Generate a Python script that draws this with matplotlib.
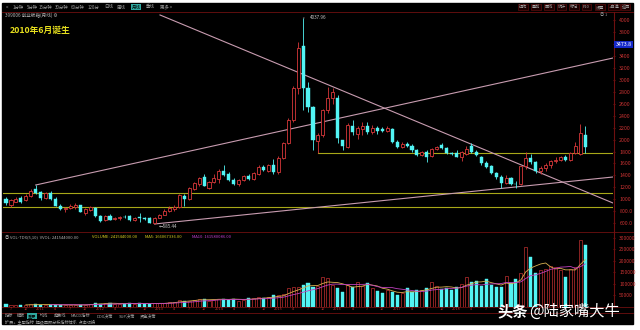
"""ChiNext (399006) monthly candles + volume, TDX-style dark screenshot."""

import numpy as np
import pandas as pd
import matplotlib
matplotlib.use('Agg')
import matplotlib.pyplot as plt
from matplotlib.patches import Rectangle
import matplotlib.transforms as mtransforms

plt.rcParams['font.family'] = ['Noto Sans CJK SC', 'DejaVu Sans']

W, H = 640, 330

# monthly bars 2010-06 .. 2020-03 (index 0 = June 2010)
OPEN  = [1000, 910, 960, 1020, 990, 1050, 1170, 1115, 1020, 1100, 1005, 895,
         840, 860, 870, 900, 775, 820, 860, 720, 650, 720, 670, 685,
         705, 720, 660, 700, 680, 680, 605, 690, 740, 810, 830, 870,
         1060, 1000, 1180, 1250, 1380, 1190, 1290, 1340, 1480, 1420, 1320, 1250,
         1320, 1390, 1340, 1430, 1545, 1480, 1570, 1460, 1690, 1950, 2330, 2860,
         3560, 2860, 2540, 1980, 2080, 2500, 2690, 2700, 1990, 1880, 2230, 2100,
         2180, 2230, 2120, 2200, 2170, 2145, 2170, 1960, 1880, 1930, 1900, 1830,
         1740, 1800, 1720, 1845, 1910, 1860, 1775, 1770, 1710, 1760, 1900, 1800,
         1715, 1600, 1550, 1445, 1375, 1280, 1360, 1255, 1250, 1550, 1690, 1620,
         1470, 1530, 1580, 1640, 1660, 1700, 1660, 1780, 1760, 2080]
HIGH  = [1040, 1000, 1040, 1050, 1080, 1180, 1239, 1140, 1120, 1130, 1030, 920,
         875, 920, 940, 910, 850, 890, 870, 740, 740, 760, 700, 720,
         740, 730, 700, 770, 700, 700, 700, 760, 830, 880, 900, 1080,
         1090, 1210, 1290, 1380, 1423, 1310, 1420, 1500, 1570, 1450, 1350, 1340,
         1410, 1420, 1460, 1570, 1580, 1590, 1670, 1720, 1960, 2360, 2900, 3640,
         4037.96, 2960, 2560, 2110, 2520, 2880, 2860, 2750, 2000, 2280, 2330, 2220,
         2300, 2290, 2250, 2230, 2210, 2230, 2190, 1990, 1960, 1960, 1920, 1850,
         1810, 1820, 1860, 1900, 1950, 1880, 1800, 1830, 1810, 1900, 1940, 1830,
         1730, 1640, 1570, 1460, 1400, 1410, 1370, 1300, 1560, 1800, 1760, 1640,
         1560, 1600, 1660, 1700, 1720, 1740, 1800, 1960, 2260, 2230]
LOW   = [900, 870, 950, 930, 970, 1030, 1080, 990, 1000, 980, 880, 820,
         790, 840, 840, 780, 740, 800, 700, 620, 640, 650, 650, 660,
         680, 640, 640, 620, 650, 595, 585.44, 680, 730, 790, 800, 860,
         890, 990, 1150, 1230, 1220, 1180, 1270, 1270, 1390, 1310, 1240, 1230,
         1300, 1320, 1320, 1410, 1470, 1460, 1430, 1430, 1680, 1930, 2300, 2760,
         2500, 2460, 1830, 1775, 2050, 2450, 2600, 1950, 1820, 1860, 2080, 2010,
         2070, 2100, 2090, 2090, 2120, 2120, 1940, 1860, 1860, 1880, 1800, 1720,
         1720, 1625, 1700, 1830, 1850, 1760, 1740, 1700, 1640, 1740, 1770, 1720,
         1580, 1520, 1420, 1340, 1184, 1250, 1240, 1184, 1240, 1500, 1590, 1440,
         1430, 1480, 1520, 1610, 1640, 1640, 1640, 1760, 1740, 1780]
CLOSE = [930, 985, 1010, 950, 1060, 1130, 1110, 1020, 1100, 1010, 890, 840,
         860, 880, 900, 790, 835, 870, 720, 640, 720, 660, 690, 700,
         700, 655, 690, 680, 670, 605, 690, 740, 810, 860, 870, 1070,
         1000, 1190, 1270, 1360, 1230, 1290, 1350, 1480, 1410, 1330, 1260, 1320,
         1390, 1345, 1440, 1540, 1495, 1575, 1460, 1690, 1940, 2330, 2860, 3540,
         2870, 2550, 2000, 2070, 2490, 2700, 2800, 2030, 1890, 2240, 2120, 2190,
         2230, 2130, 2200, 2140, 2145, 2200, 1960, 1880, 1930, 1900, 1830, 1740,
         1790, 1710, 1840, 1880, 1860, 1775, 1760, 1710, 1790, 1840, 1800, 1745,
         1610, 1545, 1445, 1375, 1280, 1360, 1250, 1250, 1550, 1690, 1620, 1470,
         1530, 1580, 1640, 1660, 1700, 1660, 1780, 1900, 2110, 1870]
VOLUME = [9000, 6000, 7000, 6500, 7500, 9000, 10000, 8000, 7000, 8500, 7000, 6500,
          6000, 7000, 8000, 6500, 7000, 12000, 16500, 13000, 14000, 15000, 11000, 12000,
          12000, 15000, 12000, 16000, 11000, 12000, 14000, 15000, 16000, 18000, 20000, 30000,
          25000, 26000, 28000, 34000, 33000, 26000, 30000, 34000, 34000, 30000, 33000, 26000,
          30000, 38000, 35000, 42000, 36000, 40000, 50000, 52000, 55000, 80000, 86000, 86000,
          93000, 103000, 86000, 90000, 130000, 125000, 95000, 79000, 64000, 95000, 86000, 108000,
          90000, 101000, 80000, 67000, 60000, 70000, 64000, 50000, 60000, 79000, 64000, 72000,
          70000, 79000, 108000, 90000, 75000, 79000, 72000, 86000, 100000, 127000, 108000, 111000,
          89000, 118000, 93000, 83000, 83000, 133000, 101000, 118000, 144000, 260000, 214000, 147000,
          160000, 165000, 175000, 170000, 160000, 127000, 165000, 173000, 289000, 267000]

PRICE_TICKS  = list(range(600, 4001, 200))
LAST_LABEL   = (3600, '3473.8')     # blue highlighted axis box
VOL_TICKS    = [50000, 100000, 150000, 200000, 250000, 300000]
SUPPORT      = [1110, 865]          # yellow full-width levels
NECKLINE     = (63, 1775)           # yellow level from Sep 2015
TREND_DOWN   = [(31.1, 4088), (122.6, 937)]
TREND_UP     = [(6, 1239), (122.6, 3367)]
TREND_LOW    = [(30, 585.44), (122.6, 1373)]

TOOLBAR  = ['<', '1分钟', '5分钟', '15分钟', '30分钟', '60分钟', '120分', '日线', '周线', '月线', '季线', '更多 >']
TOOL_X   = [6, 13, 27, 39, 55, 71, 88, 104, 117, 132, 146, 160]
RIGHTBAR = ['操作', '叠加', '画线', '统计', '标记', 'F10', '设置', '+自选', '返回']
TABS     = ['指标', '模板', '重要', '均线', '趋势线', 'MACD指标', 'DDX决策', 'SUP决策', '资金决策']
TAB_X    = [5, 17, 28, 40, 54, 71, 97, 119, 140]

UP, DOWN = '#d8383a', '#52f4f4'
DARK_RED = '#6e1010'

o, h, l, c, v = map(np.array, (OPEN, HIGH, LOW, CLOSE, VOLUME))
n = len(o)
x = np.arange(n)
up = c >= o
XLIM = (-0.61, 122.6)


def rect(x0, y0, x1, y1):
    return [x0 / W, 1 - y1 / H, (x1 - x0) / W, (y1 - y0) / H]


fig = plt.figure(figsize=(W / 100, H / 100), dpi=100, facecolor='white')

# pixel-space background layer: black screen, separators, toolbar texts
bg = fig.add_axes(rect(0, 0, W, H))
bg.set_xlim(0, W)
bg.set_ylim(H, 0)
bg.axis('off')
bg.set_zorder(0)
bg.add_patch(Rectangle((2, 3), 631, 321, color='black'))
for yy in (11.5, 231.5, 306.5, 312.5):
    bg.plot([2, 633], [yy, yy], color=DARK_RED, lw=0.6)
bg.plot([613.5, 613.5], [11.5, 306.5], color=DARK_RED, lw=0.8)

for xt, lab in zip(TOOL_X, TOOLBAR):
    hl = lab == '月线'
    bg.text(xt, 7, lab, fontsize=3.2, color='black' if hl else '#9a9a9a', va='center',
            bbox=dict(boxstyle='square,pad=0.15', fc='#2fa8a0', ec='none') if hl else None)
for k, lab in enumerate(RIGHTBAR):
    bg.text(519 + k * 12.8, 7, lab, fontsize=3.0, color='#a8a8a8', va='center',
            bbox=dict(boxstyle='square,pad=0.2', fc='#1a0000', ec=DARK_RED, lw=0.4))
bg.text(5, 15, '399006 创业板指(月线) ⚙', fontsize=3.3, color='#b8b8b8', va='center')
bg.text(600, 15, '◎ 1', fontsize=3.0, color='#909090', va='center')
bg.text(10, 30, '2010年6月诞生', fontsize=6.3, color='#e6de1e', fontweight='bold', va='center')

# volume header
bg.text(5, 237, '◎ VOL-TDX(5,10)  VVOL: 241544000.00', fontsize=3.0, color='#b0b0b0', va='center')
bg.text(92, 237, 'VOLUME: 241544000.00', fontsize=3.0, color='#d8d020', va='center')
bg.text(145, 237, 'MA5: 166067336.00', fontsize=3.0, color='#d8d020', va='center')
bg.text(192, 237, 'MA10: 161580086.00', fontsize=3.0, color='#c040d0', va='center')

# bottom tabs
for xt, lab in zip(TAB_X, TABS):
    hl = lab == '重要'
    bg.text(xt, 316, lab, fontsize=3.0, color='black' if hl else '#a0a0a0', va='center',
            bbox=dict(boxstyle='square,pad=0.15', fc='#2fa8a0', ec='none') if hl else None)
bg.text(5, 321.5, '扩展+  主题指标  超级回顾分析指标体系  点击切换', fontsize=3.0, color='#a0a0a0', va='center')

# ---- price panel ----
ax = fig.add_axes(rect(3, 12, 613, 231))
ax.set_zorder(1)
ax.set_facecolor('none')
ax.set_xlim(*XLIM)
ax.set_ylim(468, 4138)
for s in ax.spines.values():
    s.set_visible(False)
ax.set_xticks([])
ax.yaxis.tick_right()
ax.set_yticks(PRICE_TICKS)
ax.set_yticklabels(['' if t == LAST_LABEL[0] else (f'{t:.1f}' if t < 1000 else str(t))
                    for t in PRICE_TICKS])
ax.tick_params(axis='y', length=1.5, color=DARK_RED, labelsize=3.8, labelcolor='#c83232', pad=3)

ax.vlines(x, l, h, colors=np.where(up, UP, DOWN), lw=0.6, zorder=2)
body = np.maximum(np.abs(c - o), 10)
ax.bar(x[up], body[up], bottom=o[up], width=0.62, facecolor='black', edgecolor=UP, lw=0.6, zorder=3)
ax.bar(x[~up], body[~up], bottom=c[~up], width=0.62, facecolor=DOWN, edgecolor=DOWN, lw=0.3, zorder=3)

for lvl in SUPPORT:
    ax.plot(XLIM, [lvl, lvl], color='#a8a818', lw=0.8, zorder=1)
ax.plot([NECKLINE[0], XLIM[1]], [NECKLINE[1], NECKLINE[1]], color='#a8a818', lw=0.8, zorder=1)
for tl in (TREND_DOWN, TREND_UP, TREND_LOW):
    (x0, y0), (x1, y1) = tl
    ax.plot([x0, x1], [y0, y1], color='#c89cb0', lw=0.8, zorder=1)

ipk, ilo = int(np.argmax(h)), int(np.argmin(l))
ax.annotate(f'{h[ipk]:.2f}', xy=(ipk, h[ipk]), xytext=(5, 0), textcoords='offset points',
            fontsize=3.3, color='#c8c8c8', va='center',
            arrowprops=dict(arrowstyle='-', color='#c8c8c8', lw=0.4))
ax.annotate(f'←{l[ilo]:.2f}', xy=(ilo, l[ilo]), xytext=(3, -1.5), textcoords='offset points',
            fontsize=3.3, color='#c8c8c8', va='center')

blend = mtransforms.blended_transform_factory(ax.transAxes, ax.transData)
ax.text(1.004, LAST_LABEL[0], LAST_LABEL[1], transform=blend, fontsize=3.8, color='white',
        va='center', bbox=dict(boxstyle='square,pad=0.2', fc='#1428c8', ec='none'), zorder=5)

# ---- volume panel ----
vx = fig.add_axes(rect(3, 232, 613, 306.5))
vx.set_zorder(1)
vx.set_facecolor('none')
vx.set_xlim(*XLIM)
vx.set_ylim(0, 324000)
for s in vx.spines.values():
    s.set_visible(False)
vx.set_xticks([])
vx.yaxis.tick_right()
vx.set_yticks(VOL_TICKS)
vx.set_yticklabels([str(t) for t in VOL_TICKS])
vx.tick_params(axis='y', length=1.5, color=DARK_RED, labelsize=3.6, labelcolor='#c83232', pad=3)

vx.bar(x[up], v[up], width=0.62, facecolor='none', edgecolor='#a02828', lw=0.6)
vx.bar(x[~up], v[~up], width=0.62, facecolor=DOWN, edgecolor=DOWN, lw=0.3)
vol = pd.Series(v, dtype=float)
vx.plot(x, vol.rolling(5).mean(), color='#d8b050', lw=0.6)
vx.plot(x, vol.rolling(10).mean(), color='#c040c0', lw=0.6)

# date row (the watermark covers its right end)
for i in range(1, n, 3):
    xp = 6 + 4.95 * i
    if xp > 488:
        break
    m = (5 + i) % 12 + 1
    lab = str(2010 + (5 + i) // 12) if m == 1 else str(m)
    bg.text(xp, 309.5, lab, fontsize=2.8, color='#b83030', ha='center', va='center')

# watermark
fig.text(497 / W, 1 - 311 / H, '头条', fontsize=11, color='white', fontweight='bold', va='center')
fig.text(529 / W, 1 - 311 / H, '@陆家嘴大牛', fontsize=11, color='white', va='center')

fig.savefig('out.png', dpi=100, facecolor='white')
